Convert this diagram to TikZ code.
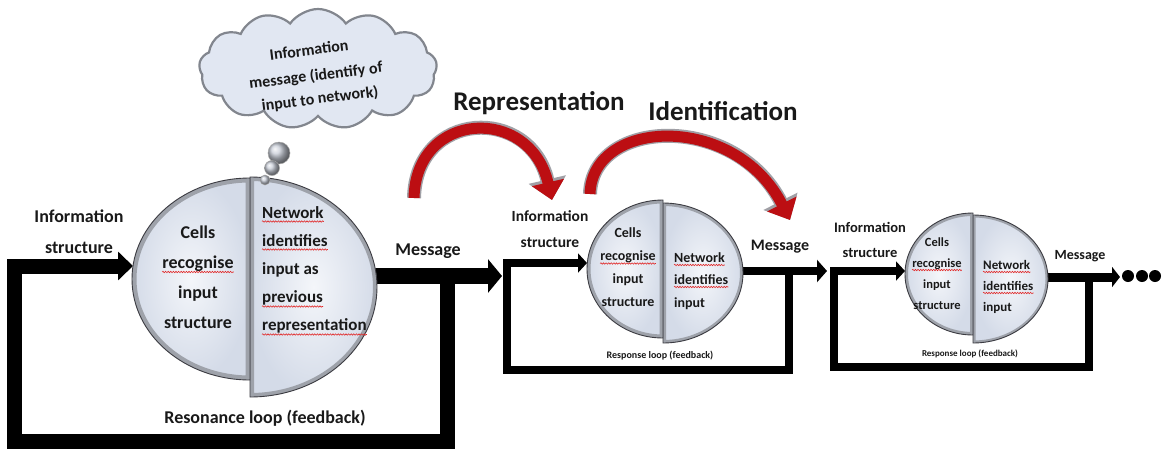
\documentclass[tikz,border=0pt]{standalone}
\usepackage{fontspec}
\setmainfont{Carlito}
\usetikzlibrary{arrows.meta,shapes.symbols,decorations.pathmorphing}
\definecolor{txt}{RGB}{25,25,25}
\definecolor{lobein}{RGB}{244,246,250}
\definecolor{lobeout}{RGB}{212,219,232}
\definecolor{rimc}{RGB}{158,162,170}
\definecolor{edgec}{RGB}{60,60,66}
\definecolor{redc}{RGB}{188,14,18}
\definecolor{redsh}{RGB}{160,160,166}
\definecolor{squigc}{RGB}{225,40,40}
\definecolor{cloudc}{RGB}{225,231,242}
\definecolor{cloudrim}{RGB}{130,134,142}
\newcommand\halflobe[6]{%
  \shade[inner color=lobein,outer color=lobeout] (#1,#2) arc[start angle=#3,delta angle=180,x radius=#4,y radius=#5] -- cycle;
  \begin{scope}
    \clip (#1,#2) arc[start angle=#3,delta angle=180,x radius=#4,y radius=#5] -- cycle;
    \draw[rimc,line width=#6] (#1,#2) arc[start angle=#3,delta angle=180,x radius=#4,y radius=#5] -- cycle;
  \end{scope}
  \draw[edgec,line width=0.9] (#1,#2) arc[start angle=#3,delta angle=180,x radius=#4,y radius=#5] -- cycle;
}
\newcommand\squigunder[2]{\draw[squig] ([yshift=-#2]#1.base west) -- ([yshift=-#2]#1.base east);}
\tikzset{
  tx/.style={inner sep=0pt,anchor=base,text=txt},
  txl/.style={inner sep=0pt,anchor=base west,text=txt},
  fs/.style={font=\fontsize{#1}{#1}\selectfont\bfseries},
  blk/.style={draw=black,line join=miter},
  squig/.style={draw=squigc,line width=0.6,decorate,decoration={snake,amplitude=0.7pt,segment length=2.6pt}},
  redshade/.style={draw=redsh,line width=14,-{Triangle[width=37pt,length=21pt]}},
  redarrow/.style={draw=redc,line width=11,-{Triangle[width=32pt,length=18pt]}},
  bub/.style={circle,inner sep=0pt,shading=ball,ball color={rgb,255:red,200;green,205;blue,215},draw=gray!70,line width=0.5},
  ctx/.style={inner sep=0pt,rotate=7,text=txt,font=\fontsize{16}{16}\selectfont\bfseries},
}
\begin{document}
\begin{tikzpicture}[x=1pt,y=-1pt]
\useasboundingbox (0,0) rectangle (1163,448);
\fill[white] (0,0) rectangle (1163,448);

% ---------- coordinates ----------
\coordinate (p1fb) at (447,276);
\coordinate (p1a) at (447,441);
\coordinate (p1b) at (14,441);
\coordinate (p1c) at (14,266);
\coordinate (p1in) at (133,266);
\coordinate (p1out) at (370,276);
\coordinate (p1tip) at (502,276);

\coordinate (p2fb) at (789,271);
\coordinate (p2a) at (789,370);
\coordinate (p2b) at (506.5,370);
\coordinate (p2c) at (506.5,263);
\coordinate (p2in) at (587,263);
\coordinate (p2out) at (738,271);
\coordinate (p2tip) at (827,271);

\coordinate (p3fb) at (1088.5,277);
\coordinate (p3a) at (1088.5,367);
\coordinate (p3b) at (833.5,367);
\coordinate (p3c) at (833.5,271);
\coordinate (p3in) at (905,271);
\coordinate (p3out) at (1043,277);
\coordinate (p3tip) at (1120,277);

% ---------- black connectors ----------
\draw[blk,line width=15,-{Triangle[width=28pt,length=15pt]}] (p1fb) -- (p1a) -- (p1b) -- (p1c) -- (p1in);
\draw[blk,line width=16,-{Triangle[width=33pt,length=14pt]}] (p1out) -- (p1tip);
\draw[blk,line width=8,-{Triangle[width=19pt,length=9pt]}] (p2fb) -- (p2a) -- (p2b) -- (p2c) -- (p2in);
\draw[blk,line width=8,-{Triangle[width=22pt,length=10pt]}] (p2out) -- (p2tip);
\draw[blk,line width=8,-{Triangle[width=19pt,length=9pt]}] (p3fb) -- (p3a) -- (p3b) -- (p3c) -- (p3in);
\draw[blk,line width=9,-{Triangle[width=20pt,length=8pt]}] (p3out) -- (p3tip);
\fill[black] (1128,276) circle[radius=6];
\fill[black] (1142,276) circle[radius=6];
\fill[black] (1155,276) circle[radius=6];

% ---------- lobes ----------
\halflobe{250}{177}{270}{127}{110}{8}
\halflobe{250}{380}{90}{118}{101}{9}
\halflobe{663}{203}{270}{80}{70}{6}
\halflobe{663}{338}{90}{76}{69}{7}
\halflobe{973}{215}{270}{75}{64}{5}
\halflobe{973}{335}{90}{68}{61}{6}

% ---------- cloud ----------
\node[cloud,cloud puffs=13,cloud puff arc=110,cloud ignores aspect,minimum width=238pt,minimum height=120pt,inner sep=0pt,
  fill=cloudc,draw=cloudrim,line width=2.2] (cloud) at (318,69) {};
\node[bub,minimum size=22pt] (bub1) at (279,153) {};
\node[bub,minimum size=15pt] (bub2) at (272,168) {};
\node[bub,minimum size=10pt] (bub3) at (265,180) {};
\node[ctx] (ct1) at (309,50) {Information};
\node[ctx] (ct2) at (316,76) {message (identify of};
\node[ctx] (ct3) at (320,99) {input to network)};

% ---------- panel 1 text ----------
\node[tx,fs=18] (p1i1) at (79,222) {Information};
\node[tx,fs=18] (p1i2) at (79,253) {structure};
\node[tx,fs=18] (p1l1) at (198,238) {Cells};
\node[tx,fs=18] (p1l2) at (198,268) {recognise};
\node[tx,fs=18] (p1l3) at (198,298) {input};
\node[tx,fs=18] (p1l4) at (198,328) {structure};
\node[txl,fs=17] (p1r1) at (262,218) {Network};
\node[txl,fs=17] (p1r2) at (262,246) {identifies};
\node[txl,fs=17] (p1r3) at (262,274) {input as};
\node[txl,fs=17] (p1r4) at (262,302) {previous};
\node[txl,fs=17] (p1r5) at (262,330) {representation};
\node[tx,fs=18] (p1m) at (428,255) {Message};
\node[tx,fs=18] (p1loop) at (265,423) {Resonance loop (feedback)};
\squigunder{p1l2}{4pt}
\squigunder{p1r1}{3.5pt}
\squigunder{p1r2}{3.5pt}
\squigunder{p1r4}{4.5pt}
\squigunder{p1r5}{4.5pt}

% ---------- panel 2 text ----------
\node[tx,fs=15.5] (p2i1) at (550,221.5) {Information};
\node[tx,fs=15.5] (p2i2) at (550,247.5) {structure};
\node[tx,fs=14] (p2l1) at (628,237) {Cells};
\node[tx,fs=14] (p2l2) at (628,260) {recognise};
\node[tx,fs=14] (p2l3) at (628,283) {input};
\node[tx,fs=14] (p2l4) at (628,306) {structure};
\node[txl,fs=14] (p2r1) at (674,262) {Network};
\node[txl,fs=14] (p2r2) at (674,284) {identifies};
\node[txl,fs=14] (p2r3) at (674,307) {input};
\node[tx,fs=16] (p2m) at (780,250) {Message};
\node[tx,fs=10] (p2loop) at (660,358) {Response loop (feedback)};
\squigunder{p2l2}{3.5pt}
\squigunder{p2r1}{3pt}
\squigunder{p2r2}{3pt}

% ---------- panel 3 text ----------
\node[tx,fs=14.5] (p3i1) at (870,232.5) {Information};
\node[tx,fs=14.5] (p3i2) at (870,257.5) {structure};
\node[tx,fs=12.5] (p3l1) at (937,246) {Cells};
\node[tx,fs=12.5] (p3l2) at (937,267) {recognise};
\node[tx,fs=12.5] (p3l3) at (937,288) {input};
\node[tx,fs=12.5] (p3l4) at (937,309) {structure};
\node[txl,fs=13] (p3r1) at (983,269) {Network};
\node[txl,fs=13] (p3r2) at (983,290) {identifies};
\node[txl,fs=13] (p3r3) at (983,311) {input};
\node[tx,fs=14] (p3m) at (1080,259) {Message};
\node[tx,fs=9] (p3loop) at (970,356) {Response loop (feedback)};
\squigunder{p3l2}{3pt}
\squigunder{p3r1}{3pt}
\squigunder{p3r2}{3pt}

% ---------- top labels and red arrows ----------
\node[tx,fs=27] (rep) at (539,110) {Representation};
\node[tx,fs=27] (ide) at (723,120) {Identification};
\coordinate (ra1s) at (414,198);
\coordinate (ra1e) at (552,200);
\coordinate (ra2s) at (590,194);
\coordinate (ra2e) at (790,220);
\draw[redshade] (ra1s) .. controls (416,110) and (530,105) .. (ra1e);
\draw[redarrow] (ra1s) .. controls (416,110) and (530,105) .. (ra1e);
\draw[redshade] (ra2s) .. controls (592,118) and (735,112) .. (ra2e);
\draw[redarrow] (ra2s) .. controls (592,118) and (735,112) .. (ra2e);
\end{tikzpicture}
\end{document}
